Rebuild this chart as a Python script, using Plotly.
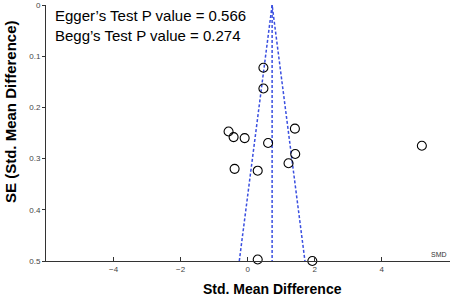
import plotly.graph_objects as go

# Study data: standardized mean difference and its standard error
smd = [0.47, 0.47, -0.57, -0.42, -0.09, 1.41, 0.61, 5.20, 1.42, 1.22, -0.39, 0.30, 0.30, 1.93]
se = [0.1225, 0.163, 0.247, 0.258, 0.260, 0.2415, 0.2695, 0.275, 0.291, 0.309, 0.320, 0.3236, 0.497, 0.500]

pooled_smd = 0.73
se_max = 0.5
z = 1.96

x_ticks = [-4, -2, 0, 2, 4]
y_ticks = [0, 0.1, 0.2, 0.3, 0.4, 0.5]
y_tick_text = ["0", "0.1", "0.2", "0.3", "0.4", "0.5"]

FONT = "Liberation Sans, Arial, sans-serif"
LINE_BLUE = "#3a4fe0"

fig = go.Figure()

# funnel sides
fig.add_trace(go.Scatter(
    x=[pooled_smd - z * se_max, pooled_smd, pooled_smd + z * se_max],
    y=[se_max, 0, se_max],
    mode="lines", line=dict(color=LINE_BLUE, width=1.5, dash="3px,2px"),
    hoverinfo="skip", showlegend=False, cliponaxis=False))
# center line
fig.add_trace(go.Scatter(
    x=[pooled_smd, pooled_smd], y=[0, se_max],
    mode="lines", line=dict(color=LINE_BLUE, width=1.5, dash="3px,2px"),
    hoverinfo="skip", showlegend=False, cliponaxis=False))
# studies
fig.add_trace(go.Scatter(
    x=smd, y=se, mode="markers",
    marker=dict(symbol="circle-open", size=9, color="black", line=dict(width=1.1)),
    showlegend=False, cliponaxis=False))

fig.update_layout(
    width=450, height=296,
    margin=dict(l=46, r=0, t=5, b=35),
    paper_bgcolor="white", plot_bgcolor="white",
    font=dict(family=FONT, color="#222"),
    xaxis=dict(range=[-6.02, 6.04], tickvals=x_ticks, ticks="inside", ticklen=4,
               tickcolor="#333", showline=True, linecolor="#333", linewidth=1,
               showgrid=False, zeroline=False, automargin=False,
               tickfont=dict(size=8, color="#444")),
    yaxis=dict(range=[0.5, 0], tickvals=y_ticks, ticktext=y_tick_text,
               ticks="outside", ticklen=3, tickcolor="#333", showline=True,
               linecolor="#333", linewidth=1, showgrid=False, zeroline=False,
               automargin=False, tickfont=dict(size=8, color="#444")),
    annotations=[
        dict(text="Egger’s Test P value = 0.566<br>Begg’s Test P value = 0.274",
             xref="paper", yref="paper", x=(53 - 46) / 404, y=1.0, xanchor="left", yanchor="top",
             showarrow=False, align="left", font=dict(size=15, color="black", family=FONT)),
        dict(text="<b>Std. Mean Difference</b>", xref="paper", yref="paper",
             x=(272 - 46) / 404, y=-(288.5 - 261) / 256, xanchor="center", yanchor="middle",
             showarrow=False, font=dict(size=14, color="black", family=FONT)),
        dict(text="<b>SE (Std. Mean Difference)</b>", xref="paper", yref="paper",
             x=(10 - 46) / 404, y=(261 - 112) / 256, xanchor="center", yanchor="middle",
             textangle=-90, showarrow=False, font=dict(size=15, color="black", family=FONT)),
        dict(text="SMD", xref="paper", yref="paper", x=1.0, y=(261 - 254) / 256,
             xanchor="right", yanchor="middle", xshift=-1, showarrow=False,
             font=dict(size=7, color="#333", family=FONT)),
    ],
)

fig.write_html("out.html", config={"displayModeBar": False},
               post_script="document.body.style.margin='0';")
